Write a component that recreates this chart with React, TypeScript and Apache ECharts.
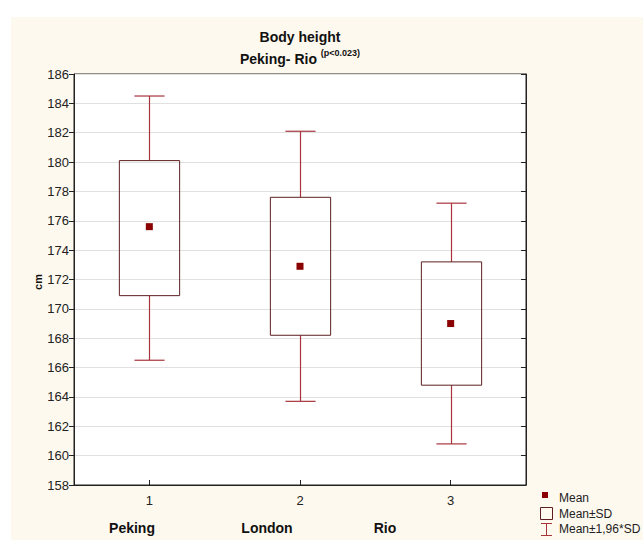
import React, { useEffect, useRef } from "react";
import * as echarts from "echarts";

const categories = ["1", "2", "3"];
const groupNames = ["Peking", "London", "Rio"];
const means = [175.6, 172.9, 169.0];
const sdLow = [170.9, 168.2, 164.8];
const sdHigh = [180.1, 177.6, 173.2];
const ciLow = [166.5, 163.7, 160.8];
const ciHigh = [184.5, 182.1, 177.2];

const FONT = "'Liberation Sans', Arial, sans-serif";
const BOX_COLOR = "#5e1f22";
const WHISKER_COLOR = "#a8343c";
const MEAN_COLOR = "#8b0000";

export default function App() {
  const ref = useRef<HTMLDivElement>(null);
  useEffect(() => {
    if (!ref.current) return;
    const chart = echarts.init(ref.current, null, { renderer: "svg" });
    const boxData = categories.map((_, i) => [i, ciLow[i], sdLow[i], sdHigh[i], ciHigh[i]]);
    const option: any = {
      animation: false,
      backgroundColor: "#ffffff",
      graphic: [
        {
          type: "rect",
          z: -10,
          silent: true,
          shape: { x: 11, y: 17, width: 632, height: 523 },
          style: { fill: "#fef9ee" },
        },
        {
          type: "text",
          x: 300,
          y: 37,
          style: {
            text: "Body height",
            font: `bold 14px ${FONT}`,
            fill: "#111",
            align: "center",
            verticalAlign: "middle",
          },
        },
        {
          type: "text",
          x: 300,
          y: 57,
          style: {
            text: "{a|Peking- Rio }{b|(p<0.023)}",
            align: "center",
            verticalAlign: "middle",
            rich: {
              a: { font: `bold 14px ${FONT}`, fill: "#111", verticalAlign: "bottom" },
              b: { font: `bold 9px ${FONT}`, fill: "#111", padding: [0, 0, 8, 0] },
            },
          },
        },
        {
          type: "text",
          x: 38,
          y: 282,
          rotation: Math.PI / 2,
          style: {
            text: "cm",
            font: `bold 11px ${FONT}`,
            fill: "#111",
            align: "center",
            verticalAlign: "middle",
          },
        },
        ...groupNames.map((n, i) => ({
          type: "text",
          x: [132, 267, 385][i],
          y: 528,
          style: {
            text: n,
            font: `bold 14px ${FONT}`,
            fill: "#111",
            align: "center",
            verticalAlign: "middle",
          },
        })),
        // legend
        {
          type: "rect",
          shape: { x: 542, y: 492, width: 6, height: 6 },
          style: { fill: MEAN_COLOR },
        },
        {
          type: "text",
          x: 559,
          y: 498,
          style: { text: "Mean", font: `12px ${FONT}`, fill: "#222", verticalAlign: "middle" },
        },
        {
          type: "rect",
          shape: { x: 540.5, y: 507.5, width: 12, height: 12 },
          style: { fill: "none", stroke: BOX_COLOR, lineWidth: 1 },
        },
        {
          type: "text",
          x: 559,
          y: 514,
          style: { text: "Mean±SD", font: `12px ${FONT}`, fill: "#222", verticalAlign: "middle" },
        },
        {
          type: "polyline",
          shape: { points: [[541, 523.5], [552, 523.5]] },
          style: { stroke: WHISKER_COLOR, lineWidth: 1 },
        },
        {
          type: "polyline",
          shape: { points: [[541, 535.5], [552, 535.5]] },
          style: { stroke: WHISKER_COLOR, lineWidth: 1 },
        },
        {
          type: "polyline",
          shape: { points: [[546.5, 523.5], [546.5, 535.5]] },
          style: { stroke: WHISKER_COLOR, lineWidth: 1 },
        },
        {
          type: "text",
          x: 559,
          y: 529,
          style: { text: "Mean±1,96*SD", font: `12px ${FONT}`, fill: "#222", verticalAlign: "middle" },
        },
      ],
      grid: {
        left: 74,
        top: 74,
        right: 117,
        bottom: 58,
        show: true,
        backgroundColor: "#ffffff",
        borderColor: "#222",
        borderWidth: 1,
      },
      xAxis: {
        type: "category",
        data: categories,
        boundaryGap: true,
        axisLine: { show: true, lineStyle: { color: "#222", width: 1 } },
        axisTick: { show: true, inside: true, alignWithLabel: true, length: 5, lineStyle: { color: "#222" } },
        axisLabel: { color: "#222", fontSize: 13, fontFamily: FONT, margin: 9 },
        splitLine: { show: false },
      },
      yAxis: [
        {
          type: "value",
          min: 158,
          max: 186,
          interval: 2,
          axisLine: { show: true, lineStyle: { color: "#222", width: 1 } },
          axisTick: { show: true, inside: false, length: 5, lineStyle: { color: "#222" } },
          axisLabel: { color: "#222", fontSize: 13, fontFamily: FONT, margin: 5 },
          splitLine: { show: true, lineStyle: { color: "#e0e0e0", width: 1 } },
        },
        {
          type: "value",
          position: "right",
          min: 158,
          max: 186,
          interval: 2,
          axisLine: { show: true, lineStyle: { color: "#222", width: 1 } },
          axisTick: { show: true, inside: true, length: 5, lineStyle: { color: "#222" } },
          axisLabel: { show: false },
          splitLine: { show: false },
        },
      ],
      series: [
        {
          type: "custom",
          data: boxData,
          encode: { x: 0, y: [1, 2, 3, 4] },
          renderItem: (params: any, api: any) => {
            const idx = api.value(0);
            const band = api.size([1, 0])[0];
            const boxW = band * 0.4;
            const capW = band * 0.2;
            const pLow = api.coord([idx, api.value(1)]);
            const pBoxLow = api.coord([idx, api.value(2)]);
            const pBoxHigh = api.coord([idx, api.value(3)]);
            const pHigh = api.coord([idx, api.value(4)]);
            const cx = Math.round(pLow[0]) + 0.5;
            const ws = { stroke: WHISKER_COLOR, lineWidth: 1.2, fill: "none" };
            return {
              type: "group",
              children: [
                { type: "line", shape: { x1: cx, y1: pHigh[1], x2: cx, y2: pBoxHigh[1] }, style: ws },
                { type: "line", shape: { x1: cx, y1: pBoxLow[1], x2: cx, y2: pLow[1] }, style: ws },
                { type: "line", shape: { x1: cx - capW / 2, y1: pHigh[1], x2: cx + capW / 2, y2: pHigh[1] }, style: ws },
                { type: "line", shape: { x1: cx - capW / 2, y1: pLow[1], x2: cx + capW / 2, y2: pLow[1] }, style: ws },
                {
                  type: "rect",
                  shape: {
                    x: cx - boxW / 2,
                    y: pBoxHigh[1],
                    width: boxW,
                    height: pBoxLow[1] - pBoxHigh[1],
                  },
                  style: { stroke: BOX_COLOR, lineWidth: 1, fill: "none" },
                },
              ],
            };
          },
          z: 3,
        },
        {
          type: "scatter",
          data: means.map((m, i) => [i, m]),
          symbol: "rect",
          symbolSize: 7,
          itemStyle: { color: MEAN_COLOR, opacity: 1 },
          z: 4,
        },
      ],
    };
    chart.setOption(option);
    return () => chart.dispose();
  }, []);
  return (
    <div
      ref={ref}
      style={{ position: "fixed", left: 0, top: 0, width: 643, height: 543 }}
    />
  );
}
